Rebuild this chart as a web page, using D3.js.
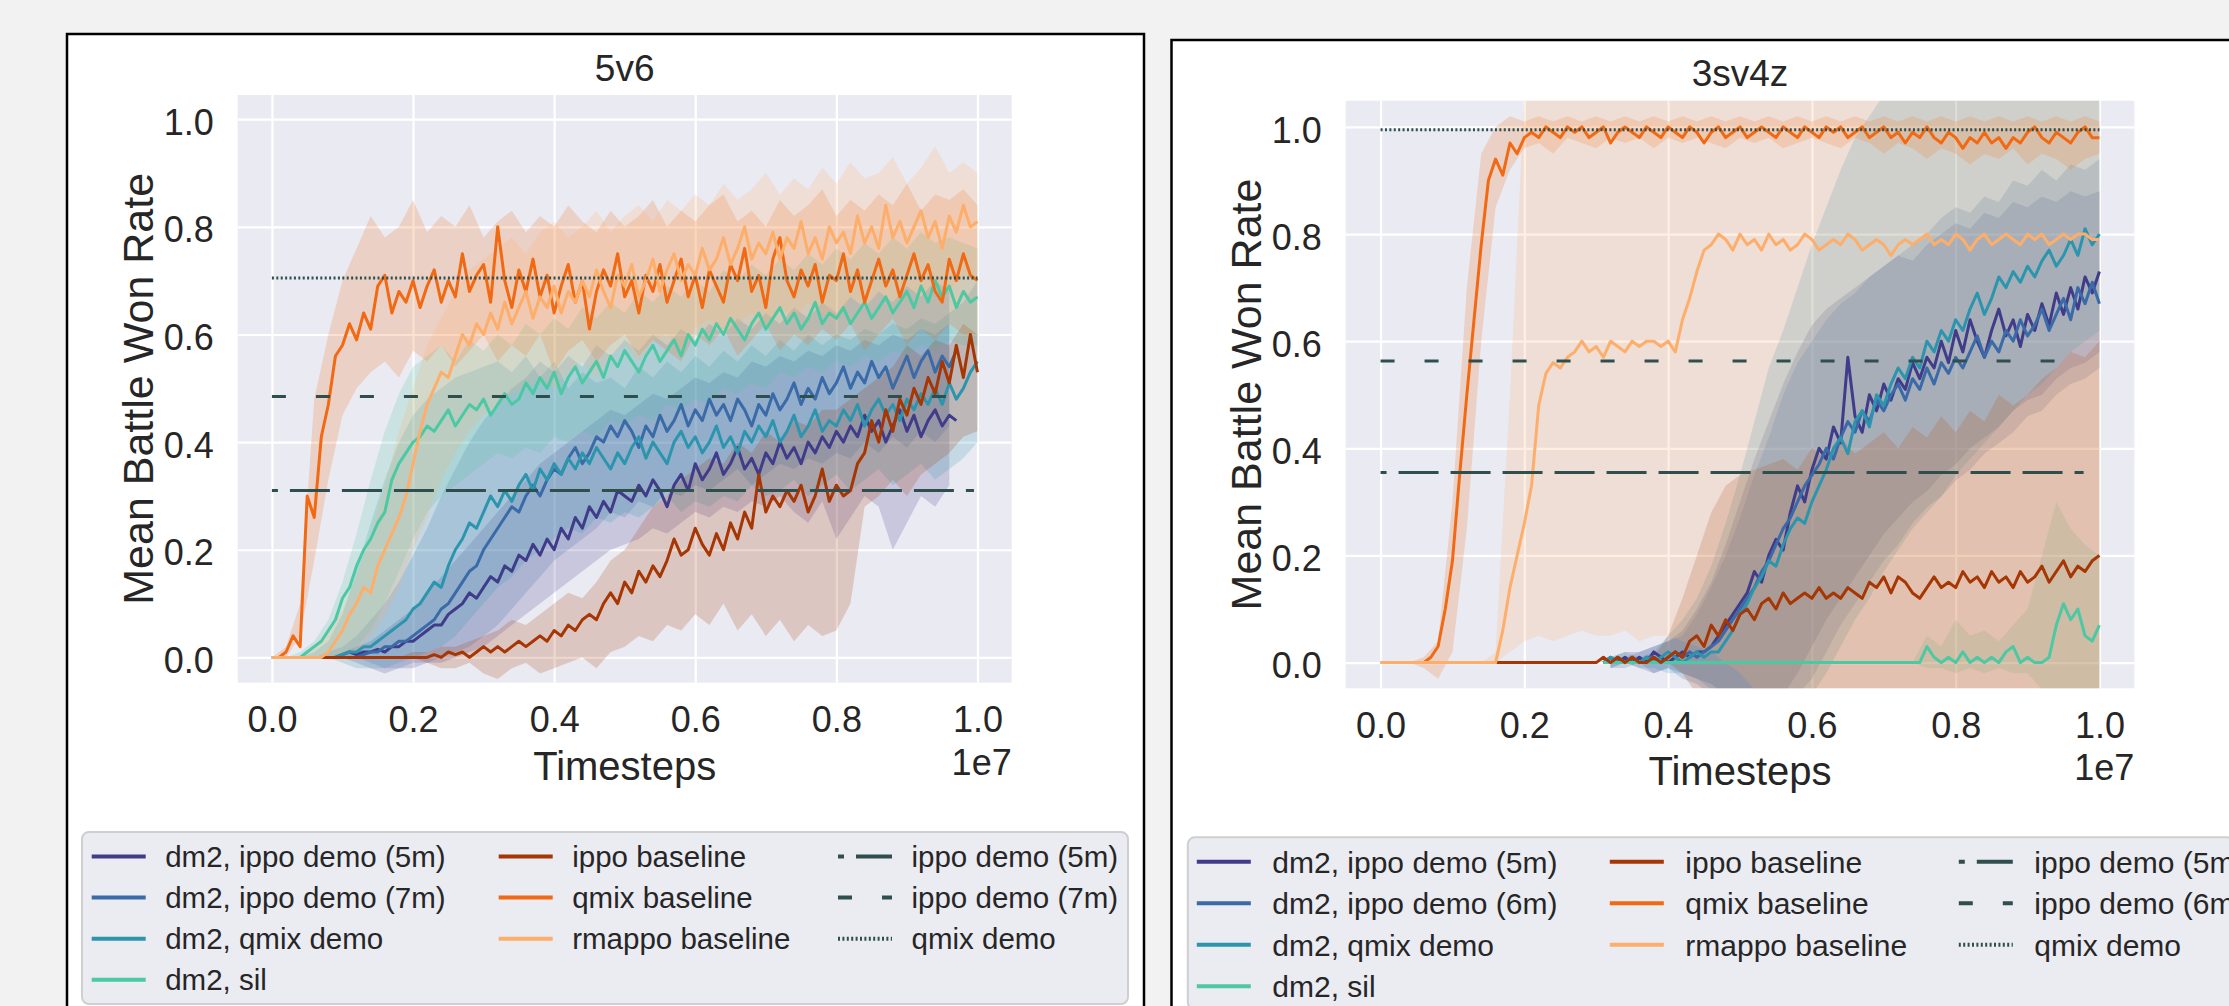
<!DOCTYPE html>
<html lang="en">
<head>
<meta charset="UTF-8">
<title>5v6 and 3sv4z</title>
<script src="https://cdn.jsdelivr.net/npm/d3@7"></script>
<style>
    body { margin: 0; background: #f2f2f2; }
    svg { display: block; }
    text { font-family: "Liberation Sans", Arial, sans-serif; fill: #262626; }
</style>
</head>
<body>
<script>

// TIMESTEP GRIDS (mean curves every 1e5 steps, bands every 2e5 steps)
const steps = d3.range(101).map(i => i * 1e5)
const bandSteps = d3.range(51).map(i => i * 2e5)

const xTicks = [0, 2e6, 4e6, 6e6, 8e6, 1e7]
const yTicks = [0, 0.2, 0.4, 0.6, 0.8, 1.0]

// ---------------- 5v6 ----------------
const L_5m = [0,0,0,0,0,0,0,0,0,0,0.005,0.01,0.005,0.01,0.01,0.015,0.01,0.02,0.02,0.03,0.03,0.04,0.05,0.06,0.06,0.08,0.09,0.1,0.12,0.11,0.13,0.15,0.14,0.17,0.16,0.19,0.18,0.21,0.19,0.22,0.2,0.24,0.22,0.26,0.24,0.28,0.26,0.29,0.27,0.31,0.3,0.29,0.32,0.3,0.33,0.31,0.28,0.32,0.34,0.31,0.36,0.33,0.35,0.38,0.34,0.36,0.39,0.35,0.37,0.34,0.38,0.36,0.4,0.37,0.39,0.36,0.4,0.38,0.41,0.39,0.42,0.4,0.43,0.41,0.45,0.42,0.44,0.4,0.43,0.46,0.42,0.45,0.41,0.44,0.46,0.43,0.45,0.44,null,null,null]
const L_5m_lo = [0,0,0,0,0,0,-0.01,-0.02,-0.03,-0.02,-0.02,-0.01,-0.01,0,0.01,0.02,0.04,0.06,0.08,0.1,0.12,0.14,0.16,0.18,0.2,0.21,0.22,0.24,0.23,0.25,0.27,0.26,0.28,0.27,0.29,0.28,0.3,0.27,0.25,0.29,0.22,0.26,0.3,0.28,0.2,0.25,0.3,0.28,0.32,null,null]
const L_5m_hi = [0,0,0,0,0,0.01,0.02,0.03,0.05,0.07,0.09,0.12,0.15,0.18,0.21,0.24,0.27,0.3,0.33,0.36,0.38,0.4,0.42,0.44,0.46,0.45,0.47,0.49,0.48,0.5,0.52,0.51,0.53,0.52,0.55,0.54,0.56,0.55,0.57,0.56,0.58,0.57,0.59,0.58,0.6,0.59,0.61,0.6,0.62,null,null]

const L_7m = [0,0,0,0,0,0,0,0,0,0,0,0,0,0.005,0.01,0.01,0.02,0.02,0.03,0.03,0.04,0.05,0.06,0.07,0.09,0.1,0.12,0.14,0.16,0.17,0.2,0.22,0.24,0.26,0.28,0.27,0.3,0.32,0.3,0.33,0.35,0.34,0.37,0.39,0.36,0.38,0.41,0.4,0.43,0.41,0.44,0.42,0.39,0.43,0.41,0.45,0.42,0.44,0.47,0.43,0.46,0.44,0.48,0.45,0.47,0.44,0.48,0.46,0.43,0.47,0.45,0.49,0.46,0.48,0.51,0.47,0.5,0.48,0.52,0.49,0.51,0.54,0.5,0.53,0.51,0.55,0.52,0.54,0.5,0.53,0.56,0.52,0.55,0.57,0.53,0.56,0.54,0.57,null,null,null]
const L_7m_lo = [0,0,0,0,0,0,0,-0.01,-0.02,-0.02,-0.01,-0.01,0,0.01,0.02,0.04,0.06,0.09,0.12,0.15,0.18,0.2,0.22,0.24,0.27,0.26,0.29,0.28,0.31,0.3,0.32,0.31,0.33,0.35,0.32,0.34,0.36,0.35,0.37,0.36,0.38,0.37,0.4,0.38,0.41,0.39,0.42,0.4,0.43,null,null]
const L_7m_hi = [0,0,0,0,0.01,0.02,0.04,0.07,0.1,0.14,0.19,0.24,0.3,0.35,0.4,0.44,0.47,0.5,0.52,0.55,0.53,0.56,0.54,0.58,0.56,0.59,0.57,0.6,0.58,0.61,0.59,0.62,0.6,0.63,0.61,0.64,0.62,0.65,0.63,0.66,0.64,0.67,0.65,0.68,0.66,0.69,0.67,0.7,0.68,null,null]

const L_qd = [0,0,0,0,0,0,0,0,0,0,0.005,0.01,0.01,0.02,0.02,0.03,0.04,0.05,0.06,0.07,0.09,0.1,0.12,0.14,0.13,0.17,0.2,0.22,0.25,0.24,0.27,0.3,0.28,0.31,0.29,0.32,0.34,0.31,0.35,0.33,0.36,0.34,0.37,0.35,0.38,0.36,0.39,0.37,0.35,0.38,0.36,0.39,0.41,0.37,0.4,0.38,0.36,0.4,0.42,0.39,0.41,0.38,0.4,0.43,0.39,0.41,0.38,0.42,0.4,0.43,0.41,0.44,0.4,0.42,0.45,0.41,0.43,0.46,0.42,0.44,0.43,0.46,0.44,0.47,0.43,0.46,0.48,0.45,0.47,0.44,0.48,0.46,0.49,0.47,0.5,0.47,0.51,0.48,0.5,0.53,0.55]
const L_qd_lo = [0,0,0,0,0,-0.01,-0.02,-0.02,-0.02,-0.01,0,0.01,0.02,0.04,0.07,0.1,0.13,0.15,0.18,0.2,0.22,0.24,0.23,0.26,0.25,0.27,0.26,0.28,0.3,0.27,0.29,0.28,0.3,0.29,0.32,0.3,0.31,0.33,0.3,0.32,0.34,0.31,0.33,0.35,0.32,0.34,0.36,0.33,0.35,0.37,0.4]
const L_qd_hi = [0,0,0,0.01,0.03,0.08,0.16,0.25,0.33,0.4,0.45,0.48,0.5,0.52,0.53,0.54,0.55,0.53,0.56,0.52,0.55,0.5,0.53,0.51,0.52,0.5,0.54,0.52,0.55,0.53,0.56,0.54,0.57,0.55,0.58,0.56,0.59,0.57,0.6,0.58,0.6,0.59,0.61,0.6,0.62,0.61,0.63,0.62,0.64,0.66,0.7]

const L_sil = [0,0,0,0,0,0.01,0.02,0.03,0.05,0.07,0.11,0.13,0.17,0.2,0.22,0.25,0.27,0.33,0.36,0.38,0.4,0.41,0.43,0.42,0.44,0.46,0.43,0.45,0.47,0.46,0.48,0.45,0.47,0.49,0.47,0.48,0.51,0.49,0.52,0.5,0.53,0.49,0.52,0.54,0.51,0.53,0.55,0.52,0.56,0.54,0.57,0.55,0.53,0.56,0.58,0.55,0.57,0.59,0.56,0.6,0.58,0.61,0.59,0.62,0.6,0.63,0.61,0.59,0.62,0.64,0.61,0.63,0.65,0.62,0.64,0.61,0.63,0.66,0.62,0.64,0.63,0.65,0.62,0.64,0.66,0.63,0.65,0.67,0.64,0.66,0.68,0.65,0.69,0.66,0.7,0.67,0.69,0.65,0.68,0.66,0.67]
const L_sil_lo = [0,0,0,0,0,0,0.02,0.05,0.1,0.16,0.22,0.27,0.3,0.32,0.34,0.36,0.38,0.37,0.39,0.38,0.41,0.4,0.42,0.41,0.44,0.43,0.45,0.44,0.47,0.46,0.48,0.47,0.5,0.49,0.51,0.5,0.53,0.52,0.54,0.53,0.55,0.54,0.56,0.55,0.57,0.56,0.58,0.57,0.59,0.58,0.58]
const L_sil_hi = [0,0,0.01,0.03,0.07,0.14,0.23,0.33,0.42,0.49,0.54,0.56,0.58,0.55,0.59,0.57,0.6,0.58,0.62,0.6,0.63,0.61,0.65,0.63,0.66,0.64,0.68,0.66,0.69,0.67,0.7,0.68,0.72,0.7,0.73,0.71,0.74,0.72,0.75,0.73,0.76,0.74,0.77,0.75,0.78,0.76,0.79,0.77,0.78,0.77,0.76]

const L_ippo = [0,0,0,0,0,0,0,0,0,0,0,0,0,0,0,0,0,0,0,0,0,0,0,0.005,0,0.01,0.005,0.01,0,0.01,0.02,0.01,0.02,0.01,0.02,0.03,0.02,0.03,0.04,0.03,0.05,0.04,0.06,0.05,0.07,0.08,0.07,0.1,0.12,0.1,0.14,0.12,0.16,0.14,0.17,0.15,0.18,0.22,0.19,0.2,0.24,0.21,0.19,0.23,0.2,0.25,0.22,0.27,0.24,0.34,0.27,0.3,0.28,0.31,0.29,0.32,0.27,0.3,0.35,0.29,0.32,0.3,0.31,0.36,0.38,0.44,0.4,0.46,0.42,0.48,0.45,0.5,0.47,0.52,0.49,0.55,0.51,0.58,0.52,0.6,0.53]
const L_ippo_lo = [0,0,0,0,0,0,0,0,0,0,0,-0.01,-0.02,-0.02,-0.01,-0.03,-0.04,-0.02,-0.01,-0.03,-0.02,-0.01,0,-0.02,0.01,0.02,0.04,0.03,0.06,0.05,0.08,0.06,0.1,0.05,0.08,0.04,0.07,0.03,0.06,0.04,0.05,0.1,0.28,0.3,0.33,0.3,0.34,0.36,0.38,0.41,0.42]
const L_ippo_hi = [0,0,0,0,0,0,0,0,0,0,0.01,0.01,0.02,0.02,0.03,0.04,0.05,0.07,0.06,0.08,0.1,0.12,0.11,0.14,0.18,0.2,0.24,0.28,0.3,0.33,0.35,0.37,0.36,0.4,0.38,0.42,0.4,0.44,0.43,0.46,0.46,0.48,0.5,0.52,0.54,0.58,0.56,0.59,0.58,0.62,0.6]

const L_qmix = [0,0,0.01,0.04,0.02,0.3,0.26,0.41,0.47,0.56,0.58,0.62,0.59,0.64,0.61,0.69,0.71,0.64,0.68,0.66,0.7,0.65,0.69,0.72,0.66,0.7,0.67,0.75,0.68,0.71,0.73,0.66,0.8,0.7,0.65,0.72,0.68,0.74,0.67,0.71,0.64,0.69,0.73,0.66,0.7,0.61,0.68,0.72,0.69,0.75,0.67,0.7,0.64,0.71,0.68,0.73,0.66,0.7,0.74,0.67,0.71,0.65,0.72,0.69,0.66,0.73,0.7,0.76,0.68,0.71,0.65,0.74,0.78,0.7,0.67,0.72,0.69,0.73,0.66,0.71,0.7,0.75,0.68,0.72,0.66,0.7,0.74,0.69,0.72,0.67,0.71,0.75,0.7,0.73,0.68,0.66,0.74,0.7,0.75,0.71,0.7]
const L_qmix_lo = [0,0,0.04,0.18,0.33,0.45,0.5,0.53,0.55,0.52,0.57,0.55,0.58,0.54,0.57,0.6,0.55,0.58,0.56,0.6,0.53,0.57,0.59,0.55,0.58,0.6,0.56,0.59,0.57,0.55,0.6,0.58,0.61,0.56,0.59,0.62,0.57,0.6,0.58,0.61,0.59,0.62,0.57,0.6,0.63,0.58,0.61,0.59,0.62,0.6,0.6]
const L_qmix_hi = [0,0.02,0.1,0.48,0.6,0.7,0.76,0.82,0.78,0.8,0.85,0.79,0.82,0.8,0.84,0.78,0.81,0.83,0.79,0.82,0.8,0.84,0.81,0.79,0.83,0.8,0.82,0.85,0.8,0.83,0.81,0.84,0.86,0.81,0.83,0.8,0.85,0.82,0.84,0.87,0.82,0.85,0.83,0.86,0.84,0.88,0.83,0.86,0.85,0.87,0.84]

const L_rmappo = [0,0,0,0,0,0,0,0,0.01,0.03,0.05,0.08,0.1,0.13,0.12,0.17,0.2,0.23,0.26,0.3,0.36,0.42,0.47,0.5,0.53,0.52,0.56,0.6,0.58,0.62,0.6,0.64,0.61,0.66,0.62,0.65,0.68,0.63,0.67,0.65,0.69,0.64,0.68,0.66,0.7,0.67,0.72,0.68,0.65,0.71,0.69,0.73,0.67,0.7,0.74,0.68,0.72,0.75,0.7,0.73,0.71,0.76,0.72,0.74,0.78,0.73,0.76,0.8,0.74,0.77,0.75,0.79,0.74,0.78,0.76,0.81,0.75,0.78,0.74,0.8,0.77,0.79,0.75,0.82,0.77,0.8,0.76,0.84,0.78,0.81,0.77,0.8,0.83,0.78,0.81,0.76,0.82,0.79,0.84,0.8,0.81]
const L_rmappo_lo = [0,0,0,0,0,0,0.01,0.04,0.08,0.13,0.2,0.26,0.33,0.38,0.42,0.45,0.47,0.49,0.5,0.52,0.5,0.53,0.55,0.52,0.56,0.58,0.55,0.59,0.6,0.57,0.61,0.63,0.6,0.62,0.64,0.61,0.65,0.63,0.66,0.64,0.62,0.67,0.65,0.68,0.66,0.69,0.67,0.7,0.68,0.71,0.7]
const L_rmappo_hi = [0,0,0,0.02,0.05,0.09,0.15,0.23,0.32,0.42,0.5,0.58,0.63,0.68,0.72,0.74,0.76,0.78,0.75,0.79,0.81,0.78,0.8,0.83,0.79,0.82,0.84,0.81,0.85,0.83,0.86,0.84,0.88,0.85,0.87,0.9,0.86,0.89,0.87,0.91,0.88,0.92,0.89,0.9,0.93,0.88,0.91,0.95,0.9,0.92,0.9]

const L_demo5m = 0.31
const L_demo7m = 0.485
const L_qmixDemo = 0.705

// ---------------- 3sv4z ----------------
const R_5m = [null,null,null,null,null,null,null,null,null,null,null,null,null,null,null,null,null,null,null,null,null,null,null,null,null,null,null,null,null,null,null,0,0.01,0,0.01,0,0.01,0,0.02,0.01,0,0.01,0.02,0.01,0.02,0.02,0.03,0.05,0.07,0.09,0.11,0.13,0.17,0.15,0.2,0.23,0.21,0.28,0.33,0.3,0.36,0.4,0.38,0.44,0.41,0.57,0.46,0.43,0.5,0.47,0.52,0.49,0.53,0.51,0.56,0.53,0.57,0.55,0.6,0.56,0.62,0.58,0.64,0.6,0.57,0.62,0.66,0.61,0.64,0.59,0.65,0.62,0.67,0.63,0.69,0.65,0.7,0.66,0.72,0.69,0.73]
const R_5m_lo = [null,null,null,null,null,null,null,null,null,null,null,null,null,null,null,null,-0.01,0,-0.01,-0.02,-0.01,-0.02,-0.03,-0.04,-0.06,-0.06,-0.06,-0.06,-0.06,-0.02,0.03,0.08,0.12,0.16,0.2,0.24,0.27,0.3,0.32,0.35,0.37,0.4,0.42,0.44,0.47,0.49,0.5,0.53,0.55,0.56,0.58]
const R_5m_hi = [null,null,null,null,null,null,null,null,null,null,null,null,null,null,null,null,0.01,0.02,0.02,0.03,0.04,0.06,0.1,0.15,0.22,0.3,0.38,0.45,0.52,0.58,0.63,0.66,0.68,0.7,0.72,0.74,0.76,0.75,0.78,0.8,0.82,0.81,0.84,0.83,0.86,0.85,0.87,0.86,0.88,0.87,0.88]

const R_6m = [null,null,null,null,null,null,null,null,null,null,null,null,null,null,null,null,null,null,null,null,null,null,null,null,null,null,null,null,null,null,null,0,0,0.01,0,0.01,0,0.01,0.01,0,0.01,0.02,0.01,0.02,0.01,0.02,0.03,0.04,0.06,0.08,0.1,0.12,0.14,0.17,0.19,0.22,0.25,0.27,0.3,0.33,0.35,0.37,0.4,0.38,0.42,0.45,0.43,0.47,0.45,0.49,0.47,0.5,0.52,0.49,0.53,0.51,0.55,0.52,0.56,0.54,0.57,0.55,0.58,0.61,0.57,0.6,0.58,0.62,0.6,0.64,0.61,0.63,0.66,0.62,0.65,0.68,0.64,0.7,0.67,0.71,0.67]
const R_6m_lo = [null,null,null,null,null,null,null,null,null,null,null,null,null,null,null,null,-0.01,-0.01,0,-0.02,-0.01,-0.03,-0.04,-0.06,-0.06,-0.06,-0.06,-0.06,-0.06,-0.06,-0.03,0.02,0.07,0.11,0.15,0.19,0.22,0.26,0.29,0.31,0.34,0.36,0.39,0.41,0.43,0.46,0.47,0.5,0.52,0.53,0.55]
const R_6m_hi = [null,null,null,null,null,null,null,null,null,null,null,null,null,null,null,null,0.01,0.01,0.02,0.03,0.04,0.05,0.09,0.14,0.2,0.27,0.35,0.42,0.5,0.56,0.6,0.64,0.67,0.69,0.72,0.74,0.76,0.78,0.8,0.83,0.85,0.84,0.87,0.86,0.9,0.89,0.92,0.9,0.93,0.92,0.94]

const R_qd = [null,null,null,null,null,null,null,null,null,null,null,null,null,null,null,null,null,null,null,null,null,null,null,null,null,null,null,null,null,null,null,0,0.01,0,0,0.01,0,0.01,0,0.01,0.02,0.01,0,0.01,0.02,0.01,0.02,0.02,0.04,0.06,0.09,0.11,0.14,0.16,0.19,0.18,0.22,0.25,0.27,0.26,0.3,0.33,0.36,0.4,0.42,0.39,0.45,0.47,0.44,0.5,0.48,0.52,0.55,0.53,0.57,0.55,0.6,0.58,0.62,0.6,0.64,0.62,0.66,0.69,0.65,0.68,0.72,0.7,0.73,0.71,0.74,0.72,0.75,0.77,0.74,0.76,0.79,0.76,0.81,0.78,0.8]
const R_qd_lo = [null,null,null,null,null,null,null,null,null,null,null,null,null,null,null,null,-0.01,0,-0.01,-0.01,-0.02,-0.02,-0.03,-0.05,-0.06,-0.06,-0.06,-0.06,-0.06,-0.06,-0.06,-0.02,0.03,0.08,0.12,0.17,0.21,0.25,0.28,0.31,0.35,0.38,0.41,0.44,0.47,0.5,0.52,0.55,0.58,0.6,0.62]
const R_qd_hi = [null,null,null,null,null,null,null,null,null,null,null,null,null,null,null,null,0.01,0.02,0.01,0.02,0.05,0.08,0.12,0.18,0.26,0.35,0.45,0.55,0.62,0.7,0.78,0.85,0.92,0.98,1.02,1.06,1.06,1.06,1.06,1.06,1.06,1.06,1.06,1.06,1.06,1.06,1.06,1.06,1.06,1.06,1.06]

const R_sil = [null,null,null,null,null,null,null,null,null,null,null,null,null,null,null,null,null,null,null,null,null,null,null,null,null,null,null,null,null,null,null,0,0,0,0,0,0,0,0,0,0,0,0,0,0,0,0,0,0,0,0,0,0,0,0,0,0,0,0,0,0,0,0,0,0,0,0,0,0,0,0,0,0,0,0,0,0.03,0.01,0,0.01,0,0.02,0,0.01,0,0.01,0,0.02,0.03,0,0.01,0,0,0.01,0.07,0.11,0.08,0.1,0.05,0.04,0.07]
const R_sil_lo = [null,null,null,null,null,null,null,null,null,null,null,null,null,null,null,null,0,0,0,0,0,0,0,0,0,0,0,0,0,0,0,0,0,0,0,0,0,0,-0.01,-0.01,-0.02,-0.01,-0.02,-0.01,-0.02,-0.02,-0.05,-0.06,-0.06,-0.06,-0.06]
const R_sil_hi = [null,null,null,null,null,null,null,null,null,null,null,null,null,null,null,null,0,0,0,0,0,0,0,0,0,0,0,0,0,0,0,0,0,0,0,0,0,0,0.05,0.03,0.08,0.05,0.06,0.04,0.07,0.1,0.2,0.3,0.25,0.22,0.2]

const R_ippo = [null,null,null,null,null,null,null,null,null,null,null,null,null,null,null,null,0,0,0,0,0,0,0,0,0,0,0,0,0,0,0,0.01,0,0.01,0,0.01,0,0,0.01,0,0.01,0.02,0.01,0.04,0.05,0.03,0.07,0.05,0.08,0.06,0.09,0.1,0.08,0.11,0.12,0.1,0.13,0.11,0.12,0.13,0.12,0.14,0.12,0.13,0.12,0.14,0.13,0.12,0.15,0.14,0.16,0.13,0.16,0.15,0.13,0.12,0.14,0.16,0.14,0.15,0.14,0.17,0.15,0.16,0.14,0.17,0.15,0.16,0.14,0.17,0.15,0.16,0.18,0.15,0.17,0.19,0.16,0.18,0.17,0.19,0.2]
const R_ippo_lo = [null,null,null,null,null,null,null,null,0,0,0,0,0,0,0,0,0,0,0,0,0,-0.02,-0.06,-0.06,-0.06,-0.06,-0.06,-0.06,-0.06,-0.06,-0.06,-0.06,-0.06,-0.06,-0.06,-0.06,-0.06,-0.06,-0.06,-0.06,-0.06,-0.06,-0.06,-0.06,-0.06,-0.06,-0.06,-0.06,-0.06,-0.06,-0.06]
const R_ippo_hi = [null,null,null,null,null,null,null,null,0,0,0,0,0,0,0,0,0,0.01,0,0.01,0.05,0.12,0.2,0.28,0.33,0.35,0.36,0.37,0.38,0.36,0.4,0.38,0.42,0.39,0.41,0.43,0.4,0.44,0.42,0.46,0.43,0.47,0.45,0.5,0.48,0.5,0.53,0.55,0.58,0.57,0.6]

const R_qmix = [0,0,0,0,0,0,0,0.01,0.03,0.1,0.19,0.35,0.5,0.64,0.78,0.9,0.94,0.91,0.97,0.95,0.98,0.99,0.98,1,0.99,0.98,1,0.99,1,0.98,0.99,1,0.97,0.99,1,0.99,0.98,1,0.99,0.98,1,0.99,0.98,1,0.99,0.97,0.99,1,0.98,0.99,1,0.98,0.99,1,0.99,0.98,1,0.99,0.98,1,0.99,0.98,1,0.99,1,0.98,0.99,1,0.98,0.99,1,0.98,0.99,0.97,0.99,0.98,1,0.98,0.97,0.99,0.98,0.96,0.98,0.97,0.99,0.97,0.98,0.96,0.98,0.97,0.99,1,0.98,0.97,0.99,0.98,0.97,0.99,1,0.98,0.98]
const R_qmix_lo = [0,0,0,-0.01,-0.03,0.02,0.25,0.6,0.85,0.92,0.96,0.97,0.95,0.98,0.97,0.96,0.98,0.97,0.98,0.96,0.98,0.97,0.98,0.97,0.96,0.98,0.97,0.98,0.96,0.97,0.98,0.97,0.96,0.98,0.97,0.95,0.97,0.96,0.94,0.96,0.95,0.93,0.95,0.94,0.96,0.93,0.95,0.94,0.92,0.94,0.95]
const R_qmix_hi = [0,0,0,0.01,0.04,0.3,0.7,0.95,1,1.02,1.01,1.02,1.01,1.02,1.01,1.02,1.01,1.02,1.01,1.02,1.01,1.02,1.01,1.02,1.01,1.02,1.01,1.02,1.01,1.02,1.01,1.02,1.01,1.02,1.01,1.02,1.01,1.02,1.01,1.02,1.01,1.02,1.01,1.02,1.01,1.02,1.01,1.02,1.01,1.02,1.01]

const R_rmappo = [0,0,0,0,0,0,0,0,0,0,0,0,0,0,0,0,0,0.06,0.14,0.2,0.26,0.33,0.48,0.54,0.56,0.55,0.57,0.58,0.6,0.58,0.59,0.57,0.6,0.59,0.58,0.6,0.59,0.6,0.6,0.59,0.6,0.58,0.64,0.68,0.73,0.77,0.78,0.8,0.79,0.77,0.8,0.78,0.79,0.77,0.8,0.78,0.79,0.77,0.78,0.8,0.79,0.77,0.78,0.79,0.78,0.8,0.79,0.77,0.78,0.79,0.78,0.76,0.78,0.79,0.78,0.79,0.8,0.78,0.79,0.78,0.8,0.79,0.77,0.79,0.8,0.78,0.79,0.8,0.79,0.78,0.8,0.79,0.8,0.78,0.79,0.8,0.79,0.8,0.8,0.79,0.79]
const R_rmappo_lo = [0,0,0,0,0,0,0,0,0,0.02,0.04,0.05,0.04,0.05,0.06,0.05,0.05,0.06,0.04,0.05,0.05,0.04,0.03,0.02,0,-0.02,-0.05,-0.06,-0.06,-0.06,-0.06,-0.06,-0.06,-0.06,-0.06,-0.06,-0.06,-0.06,-0.06,-0.06,-0.06,-0.06,-0.06,-0.06,-0.06,-0.06,-0.06,-0.06,-0.06,-0.06,-0.06]
const R_rmappo_hi = [0,0,0,0,0,0,0,0,0.02,0.5,1.06,1.06,1.06,1.06,1.06,1.06,1.06,1.06,1.06,1.06,1.06,1.06,1.06,1.06,1.06,1.06,1.06,1.06,1.06,1.06,1.06,1.06,1.06,1.06,1.06,1.06,1.06,1.06,1.06,1.06,1.06,1.06,1.06,1.06,1.06,1.06,1.06,1.06,1.06,1.06,1.06]

const R_demo5m = 0.355
const R_demo6m = 0.563
const R_qmixDemo = 0.995

// COLOURS
const C5m = "#403c8a", C7m = "#3a6aa8", Cqd = "#2c95ae", Csil = "#4cc8a3"
const Cippo = "#a63603", Cqmix = "#f16913", Crmappo = "#fdae6b", Cdemo = "#2f4f4f"

const panels = [
    {
        title: "5v6",
        frame: [67, 34, 1077, 1000],
        area: {x0: 237.7, x1: 1011.7, y0: 95, y1: 682.7},
        yDomain: [-0.047, 1.045],
        series: [
            {name: "dm2, ippo demo (5m)", color: C5m, mean: L_5m, lo: L_5m_lo, hi: L_5m_hi},
            {name: "dm2, ippo demo (7m)", color: C7m, mean: L_7m, lo: L_7m_lo, hi: L_7m_hi},
            {name: "dm2, qmix demo", color: Cqd, mean: L_qd, lo: L_qd_lo, hi: L_qd_hi},
            {name: "dm2, sil", color: Csil, mean: L_sil, lo: L_sil_lo, hi: L_sil_hi},
            {name: "ippo baseline", color: Cippo, mean: L_ippo, lo: L_ippo_lo, hi: L_ippo_hi},
            {name: "qmix baseline", color: Cqmix, mean: L_qmix, lo: L_qmix_lo, hi: L_qmix_hi},
            {name: "rmappo baseline", color: Crmappo, mean: L_rmappo, lo: L_rmappo_lo, hi: L_rmappo_hi}
        ],
        demos: [
            {name: "ippo demo (5m)", y: L_demo5m, dash: "40,12", offset: 34, end: 0.995e7},
            {name: "ippo demo (7m)", y: L_demo7m, dash: "14,30", offset: 0, end: 0.995e7},
            {name: "qmix demo", y: L_qmixDemo, dash: "2,2.4", offset: 0, end: 1e7}
        ],
        legend: {x: 82, y: 832, w: 1046, h: 172, cols: [9.7, 416.7, 756], gap: 73.5, font: 29.5, row0: 24.5, dy: 41.1}
    },
    {
        title: "3sv4z",
        frame: [1171.5, 40, 1077, 1000],
        area: {x0: 1345.7, x1: 2134.3, y0: 100.7, y1: 688.3},
        yDomain: [-0.048, 1.049],
        series: [
            {name: "dm2, ippo demo (5m)", color: C5m, mean: R_5m, lo: R_5m_lo, hi: R_5m_hi},
            {name: "dm2, ippo demo (6m)", color: C7m, mean: R_6m, lo: R_6m_lo, hi: R_6m_hi},
            {name: "dm2, qmix demo", color: Cqd, mean: R_qd, lo: R_qd_lo, hi: R_qd_hi},
            {name: "dm2, sil", color: Csil, mean: R_sil, lo: R_sil_lo, hi: R_sil_hi},
            {name: "ippo baseline", color: Cippo, mean: R_ippo, lo: R_ippo_lo, hi: R_ippo_hi},
            {name: "qmix baseline", color: Cqmix, mean: R_qmix, lo: R_qmix_lo, hi: R_qmix_hi},
            {name: "rmappo baseline", color: Crmappo, mean: R_rmappo, lo: R_rmappo_lo, hi: R_rmappo_hi}
        ],
        demos: [
            {name: "ippo demo (5m)", y: R_demo5m, dash: "40,12", offset: 34, end: 0.978e7},
            {name: "ippo demo (6m)", y: R_demo6m, dash: "14,30", offset: 0, end: 0.978e7},
            {name: "qmix demo", y: R_qmixDemo, dash: "2,2.4", offset: 0, end: 1e7}
        ],
        legend: {x: 1187.8, y: 837.3, w: 1046, h: 172, cols: [9, 422, 771], gap: 75.5, font: 30, row0: 24.4, dy: 41.5}
    }
]

let svg = d3.select("body").append("svg").attr("width", 2229).attr("height", 1006)

panels.forEach((p, pi) => {
    let a = p.area
    let g = svg.append("g")

    // white figure panel with black frame
    g.append("rect").attr("x", p.frame[0]).attr("y", p.frame[1])
        .attr("width", p.frame[2]).attr("height", p.frame[3])
        .style("fill", "white").style("stroke", "black").style("stroke-width", 2.5)

    let x_scale = d3.scaleLinear().domain([-0.0485e7, 1.0485e7]).range([a.x0, a.x1])
    let y_scale = d3.scaleLinear().domain(p.yDomain).range([a.y1, a.y0])

    g.append("rect").attr("x", a.x0).attr("y", a.y0)
        .attr("width", a.x1 - a.x0).attr("height", a.y1 - a.y0).style("fill", "#eaeaf2")

    // GRID + TICK LABELS
    const x_axis = d3.axisBottom(x_scale).tickValues(xTicks)
        .tickSize(-(a.y1 - a.y0)).tickPadding(24).tickFormat(d => (d / 1e7).toFixed(1))
    const y_axis = d3.axisLeft(y_scale).tickValues(yTicks)
        .tickSize(-(a.x1 - a.x0)).tickPadding(24).tickFormat(d => d.toFixed(1))

    let gx = g.append("g").attr("transform", `translate(0,${a.y1})`).call(x_axis)
    let gy = g.append("g").attr("transform", `translate(${a.x0},0)`).call(y_axis)
    ;[gx, gy].forEach(ax => {
        ax.select(".domain").remove()
        ax.selectAll("line").style("stroke", "white").style("stroke-width", 2.2)
        ax.selectAll("text").style("font-size", "36px").style("fill", "#262626")
            .style("font-family", '"Liberation Sans", Arial, sans-serif')
    })
    gy.selectAll("text").attr("dy", "0.42em")

    // clip for curves
    let clipId = "clip" + pi
    svg.append("clipPath").attr("id", clipId).append("rect")
        .attr("x", a.x0).attr("y", a.y0).attr("width", a.x1 - a.x0).attr("height", a.y1 - a.y0)
    let plot = g.append("g").attr("clip-path", `url(#${clipId})`)

    let band = d3.area()
        .defined(d => d.lo != null && d.hi != null)
        .x(d => x_scale(d.t)).y0(d => y_scale(d.lo)).y1(d => y_scale(d.hi))
    let line = d3.line()
        .defined(d => d.v != null)
        .x(d => x_scale(d.t)).y(d => y_scale(d.v))

    p.series.forEach(s => {
        let bd = bandSteps.map((t, i) => ({t: t, lo: s.lo[i], hi: s.hi[i]}))
        plot.append("path").datum(bd).attr("d", band)
            .style("fill", s.color).style("fill-opacity", 0.2).style("stroke", "none")
    })
    p.series.forEach(s => {
        let ld = steps.map((t, i) => ({t: t, v: s.mean[i]}))
        plot.append("path").datum(ld).attr("d", line)
            .style("fill", "none").style("stroke", s.color).style("stroke-width", 3)
            .style("stroke-linejoin", "round")
    })
    p.demos.forEach(dm => {
        let ld = [{t: 0, v: dm.y}, {t: dm.end, v: dm.y}]
        plot.append("path").datum(ld).attr("d", line)
            .style("fill", "none").style("stroke", Cdemo).style("stroke-width", 3)
            .style("stroke-dasharray", dm.dash).style("stroke-dashoffset", dm.offset)
    })

    // TITLE AND AXIS LABELS
    let cx = (a.x0 + a.x1) / 2
    g.append("text").attr("x", cx).attr("y", a.y0 - 14.5).attr("text-anchor", "middle")
        .style("font-size", "37px").text(p.title)
    g.append("text").attr("x", cx).attr("y", a.y1 + 97).attr("text-anchor", "middle")
        .style("font-size", "40px").text("Timesteps")
    g.append("text").attr("x", a.x1).attr("y", a.y1 + 92).attr("text-anchor", "end")
        .style("font-size", "36px").text("1e7")
    g.append("text")
        .attr("transform", `translate(${a.x0 - 85},${(a.y0 + a.y1) / 2}) rotate(-90)`)
        .attr("text-anchor", "middle").style("font-size", "43px").text("Mean Battle Won Rate")

    // LEGEND
    let L = p.legend
    g.append("rect").attr("x", L.x).attr("y", L.y).attr("width", L.w).attr("height", L.h)
        .attr("rx", 7).style("fill", "#ebebf2").style("stroke", "#cfcfcf").style("stroke-width", 2)
    let entries = []
    p.series.slice(0, 4).forEach((s, i) => entries.push({col: 0, row: i, name: s.name, color: s.color}))
    p.series.slice(4).forEach((s, i) => entries.push({col: 1, row: i, name: s.name, color: s.color}))
    p.demos.forEach((dm, i) => entries.push({col: 2, row: i, name: dm.name, color: Cdemo, dash: dm.dash, offset: dm.offset}))
    entries.forEach(e => {
        let ex = L.x + L.cols[e.col]
        let ey = L.y + L.row0 + e.row * L.dy
        g.append("line").attr("x1", ex).attr("x2", ex + 54).attr("y1", ey).attr("y2", ey)
            .style("stroke", e.color).style("stroke-width", 4)
            .style("stroke-dasharray", e.dash || null).style("stroke-dashoffset", e.offset || 0)
        g.append("text").attr("x", ex + L.gap).attr("y", ey).attr("dy", "0.36em")
            .style("font-size", L.font + "px").text(e.name)
    })
})

</script>
</body>
</html>
